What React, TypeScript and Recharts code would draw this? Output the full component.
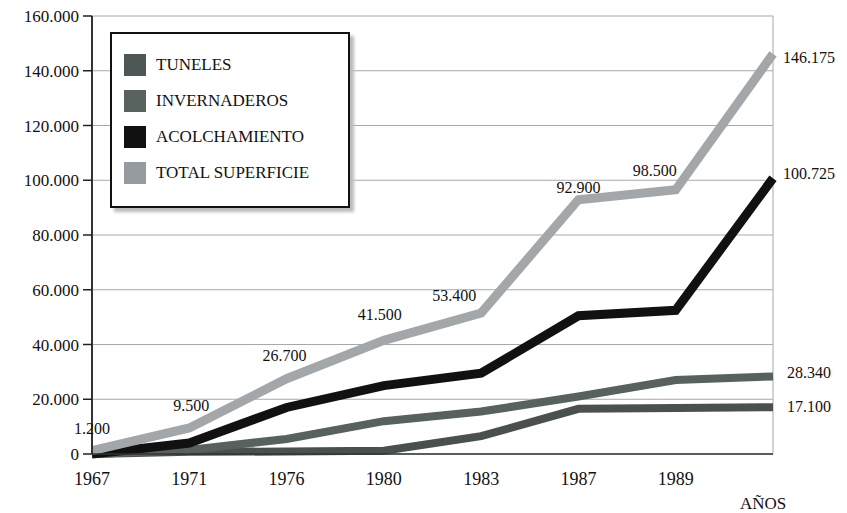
import React from 'react';
import { LineChart, Line, XAxis, YAxis, CartesianGrid, LabelList } from 'recharts';

const years = ['1967', '1971', '1976', '1980', '1983', '1987', '1989', ''];
const tuneles = [0, 800, 900, 1200, 6500, 16500, 16800, 17100];
const invernaderos = [0, 1500, 5500, 12000, 15500, 21000, 27000, 28340];
const acolchamiento = [0, 4000, 17000, 25000, 29500, 50500, 52500, 100725];
const totalSuperficie = [1200, 9500, 27500, 41500, 51500, 92900, 96500, 146175];
const totalLabels = ['1.200', '9.500', '26.700', '41.500', '53.400', '92.900', '98.500', '146.175'];
const yTicks = [0, 20000, 40000, 60000, 80000, 100000, 120000, 140000, 160000];

const data = years.map((year, i) => ({
  year,
  tuneles: tuneles[i],
  invernaderos: invernaderos[i],
  acolchamiento: acolchamiento[i],
  total: totalSuperficie[i],
}));

const FONT = '"Liberation Serif", "DejaVu Serif", serif';
const fmt = (v: number) => (v === 0 ? '0' : v.toLocaleString('de-DE'));

// per-point offsets for the total labels (dx, dy)
const totalLabelOffsets = [
  [0, -20], [2, -21], [-2, -21], [-4, -24], [-27, -16], [0, -10], [-21, -18], [36, 5],
];

const legendItems = [
  { name: 'TUNELES', color: '#4d5755' },
  { name: 'INVERNADEROS', color: '#58625f' },
  { name: 'ACOLCHAMIENTO', color: '#111111' },
  { name: 'TOTAL SUPERFICIE', color: '#959b9e' },
];

const TotalLabel = (props: any) => {
  const { x, y, index } = props;
  const [dx, dy] = totalLabelOffsets[index];
  return (
    <text x={x + dx} y={y + dy} textAnchor="middle" dominantBaseline="middle" fontFamily={FONT} fontSize={16} fill="#111">
      {totalLabels[index]}
    </text>
  );
};

const EndLabel = (text: string, dy: number) => (props: any) => {
  const { x, y, index } = props;
  if (index !== years.length - 1) return null;
  return (
    <text x={x + 36} y={y + dy} textAnchor="middle" dominantBaseline="middle" fontFamily={FONT} fontSize={16} fill="#111">
      {text}
    </text>
  );
};

export default function App() {
  return (
    <div style={{ position: 'absolute', left: 0, top: 0, width: 847, height: 513, background: '#fff' }}>
      <LineChart width={847} height={513} data={data} margin={{ top: 16, right: 74, bottom: 0, left: 0 }}>
        <CartesianGrid
          horizontal
          vertical
          verticalCoordinatesGenerator={({ offset }: any) => [offset.left + offset.width]}
          stroke="#a8a8a8"
          strokeWidth={1}
        />
        <XAxis
          dataKey="year"
          height={59}
          axisLine={{ stroke: '#333', strokeWidth: 1.5 }}
          tickLine={false}
          tick={{ fontFamily: FONT, fontSize: 18, fill: '#111' }}
          tickMargin={12}
          interval={0}
        />
        <YAxis
          width={92}
          domain={[0, 160000]}
          ticks={yTicks}
          tickFormatter={fmt}
          axisLine={{ stroke: '#333', strokeWidth: 2 }}
          tickLine={{ stroke: '#222', strokeWidth: 1.5 }}
          tickSize={9}
          tick={{ fontFamily: FONT, fontSize: 17, fill: '#111' }}
          tickMargin={4}
        />
        <Line dataKey="tuneles" stroke="#4a504f" strokeWidth={8} dot={false} isAnimationActive={false} strokeLinejoin="miter">
          <LabelList dataKey="tuneles" content={EndLabel('17.100', 1)} />
        </Line>
        <Line dataKey="invernaderos" stroke="#57615e" strokeWidth={8} dot={false} isAnimationActive={false} strokeLinejoin="miter">
          <LabelList dataKey="invernaderos" content={EndLabel('28.340', -2)} />
        </Line>
        <Line dataKey="acolchamiento" stroke="#111111" strokeWidth={9} dot={false} isAnimationActive={false} strokeLinejoin="miter">
          <LabelList dataKey="acolchamiento" content={EndLabel('100.725', -3)} />
        </Line>
        <Line dataKey="total" stroke="#a3a7a9" strokeWidth={9} dot={false} isAnimationActive={false} strokeLinejoin="miter">
          <LabelList dataKey="total" content={TotalLabel} />
        </Line>
      </LineChart>
      <div
        style={{
          position: 'absolute',
          left: 110,
          top: 32,
          width: 236,
          height: 172,
          border: '2px solid #111',
          background: '#fff',
          boxShadow: '4px 4px 3px #bbb',
        }}
      >
        {legendItems.map((item, i) => (
          <div key={item.name} style={{ position: 'absolute', left: 12, top: 20 + i * 36, display: 'flex', alignItems: 'center' }}>
            <div style={{ width: 22, height: 22, background: item.color, marginRight: 10 }} />
            <span style={{ fontFamily: FONT, fontSize: 17, color: '#111' }}>{item.name}</span>
          </div>
        ))}
      </div>
      <div style={{ position: 'absolute', left: 740, top: 494, fontFamily: FONT, fontSize: 17, color: '#111' }}>AÑOS</div>
    </div>
  );
}
